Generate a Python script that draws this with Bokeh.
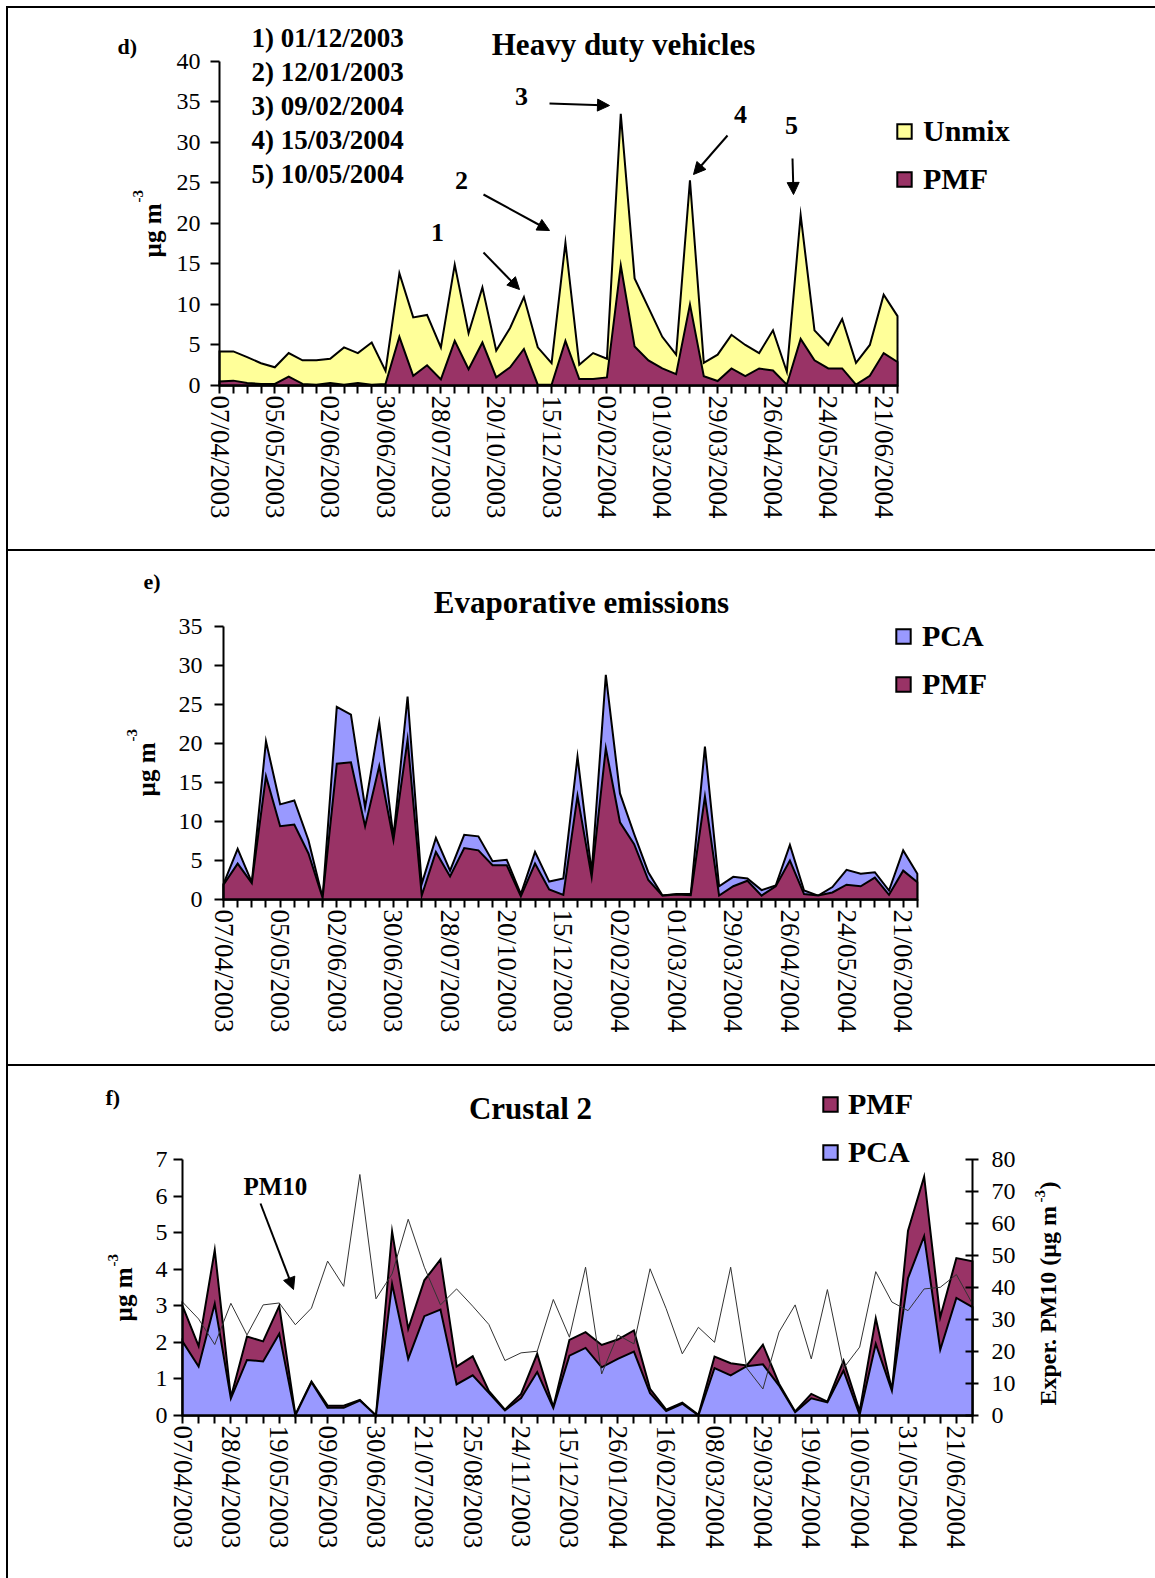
import math
from bokeh.plotting import figure
from bokeh.models import (Range1d, LinearAxis, FixedTicker, Label, Arrow, NormalHead,
                          Legend, LegendItem, Div)
from bokeh.layouts import column, row
from bokeh.embed import file_html
from bokeh.resources import INLINE

# ---------------- data ----------------
# d) Heavy duty vehicles (50 samples)
d_unmix = [4.2, 4.2, 3.5, 2.75, 2.25, 4.0, 3.1, 3.1, 3.3, 4.7, 4.0, 5.3, 1.8,
           13.85, 8.4, 8.7, 4.7, 14.9, 6.45, 12.1, 4.3, 7.1, 10.9, 4.7, 2.75, 17.6, 2.55, 4.0, 3.3,
           33.5, 13.2, 9.6, 6.0, 3.8, 25.3, 2.8, 3.8, 6.25, 5.0, 4.0, 6.8, 1.7, 21.0, 6.8, 5.0,
           8.2, 2.8, 5.0, 11.2, 8.55]
d_pmf = [0.5, 0.6, 0.3, 0.2, 0.2, 1.1, 0.2, 0.1, 0.3, 0.1, 0.3, 0.1, 0.2,
         6.0, 1.2, 2.5, 0.75, 5.5, 2.0, 5.3, 1.0, 2.25, 4.5, 0.1, 0.1, 5.5, 0.8, 0.8, 1.0,
         14.8, 4.8, 3.1, 2.1, 1.4, 10.0, 1.15, 0.55, 2.1, 1.15, 2.1, 1.85, 0.1, 5.75, 3.1, 2.1,
         2.1, 0.1, 1.2, 4.0, 2.9]
d_tick_labels = ["07/04/2003", "05/05/2003", "02/06/2003", "30/06/2003", "28/07/2003",
                 "20/10/2003", "15/12/2003", "02/02/2004", "01/03/2004", "29/03/2004",
                 "26/04/2004", "24/05/2004", "21/06/2004"]
d_events = ["1) 01/12/2003", "2) 12/01/2003", "3) 09/02/2004", "4) 15/03/2004", "5) 10/05/2004"]

# e) Evaporative emissions (50 samples)
e_pca = [2.0, 6.5, 2.2, 20.3, 12.2, 12.7, 7.6, 0.2, 24.7, 23.7, 11.8, 22.7, 8.0, 26.0, 2.0,
         7.9, 3.7, 8.3, 8.1, 4.9, 5.1, 0.7, 6.1,
         2.3, 2.7, 18.3, 3.5, 28.8, 13.6, 8.4, 3.5, 0.5, 0.7, 0.7, 19.6, 1.7, 2.9, 2.7, 1.2,
         1.8, 7.0, 1.15, 0.5, 1.6, 3.8, 3.3, 3.5, 1.15, 6.3, 3.3]
e_pmf = [1.9, 4.6, 2.1, 15.8, 9.4, 9.6, 5.9, 0.2, 17.4, 17.6, 9.4, 17.1, 7.6, 20.5, 0.5,
         6.1, 2.95, 6.6, 6.3, 4.4, 4.4, 0.4, 4.6,
         1.3, 0.6, 13.3, 2.9, 19.4, 9.9, 7.1, 2.5, 0.5, 0.65, 0.55, 13.2, 0.5, 1.7, 2.4, 0.5,
         1.7, 5.0, 0.7, 0.5, 0.9, 1.9, 1.7, 2.8, 0.6, 3.7, 2.2]
e_tick_labels = d_tick_labels

# f) Crustal 2 (50 samples)
f_pmf = [3.0, 1.9, 4.53, 0.5, 2.16, 2.03, 3.0, 0.02, 0.93, 0.27, 0.27, 0.43, 0.0, 5.04,
         2.37, 3.7, 4.27, 1.34, 1.62, 0.67, 0.16, 0.59, 1.69,
         0.23, 2.07, 2.28, 1.93, 2.08, 2.33, 0.73, 0.16, 0.35, 0.02, 1.61, 1.43, 1.37, 1.94,
         0.87, 0.11, 0.59, 0.38, 1.5, 0.12, 2.66, 0.7, 5.06, 6.54, 2.69, 4.31, 4.22]
f_pca = [2.03, 1.34, 3.06, 0.47, 1.52, 1.48, 2.24, 0.0, 0.91, 0.21, 0.21, 0.41, 0.0, 3.6,
         1.55, 2.72, 2.9, 0.85, 1.1, 0.62, 0.14, 0.48, 1.19,
         0.21, 1.64, 1.85, 1.32, 1.55, 1.75, 0.61, 0.12, 0.32, 0.0, 1.3, 1.1, 1.35, 1.4,
         0.82, 0.09, 0.47, 0.36, 1.23, 0.02, 1.96, 0.68, 3.76, 4.91, 1.8, 3.22, 2.97]
f_pm10 = [35.5, 30.2, 22.2, 35.1, 25.2, 34.6, 35.2, 28.4, 33.6, 48.3, 40.4, 75.4, 36.5,
          44.3, 61.4, 46.4, 34.6, 39.6, 34.2, 28.5, 17.2, 19.6, 20.1,
          36.3, 24.5, 46.4, 13.0, 25.2, 22.4, 45.9, 33.4, 19.3, 27.6, 22.9, 46.4, 14.8, 8.3,
          26.1, 34.6, 17.7, 39.4, 14.8, 21.4, 45.0, 35.5, 32.8, 39.6, 40.1, 44.1, 34.9]
f_tick_labels = ["07/04/2003", "28/04/2003", "19/05/2003", "09/06/2003", "30/06/2003",
                 "21/07/2003", "25/08/2003", "24/11/2003", "15/12/2003", "26/01/2004",
                 "16/02/2004", "08/03/2004", "29/03/2004", "19/04/2004", "10/05/2004",
                 "31/05/2004", "21/06/2004"]

# ---------------- styling ----------------
SERIF = "Liberation Serif"
YELLOW = "#FFFF99"
PLUM = "#993366"
BLUE = "#9999FF"
W = 1147              # figure width
PAGE_X0 = 8           # page x of figure left edge
BASE_SHIFT = 0.3      # correction of Label baseline placement (fraction of font size)


class Conv:
    """page pixel -> data coordinate helper for one panel"""
    def __init__(self, x0_page, y0_page, sx, sy):
        self.x0, self.y0, self.sx, self.sy = x0_page, y0_page, sx, sy

    def x(self, px):
        return (px - self.x0) / self.sx

    def y(self, py):
        return (self.y0 - py) / self.sy


def make_fig(top_page, height, c):
    # the frame covers the whole figure; axes are placed with fixed_location
    p = figure(width=W, height=height,
               x_range=Range1d(c.x(PAGE_X0), c.x(PAGE_X0 + W)),
               y_range=Range1d(c.y(top_page + height), c.y(top_page)),
               output_backend="svg", toolbar_location=None, title=None,
               min_border_left=0, min_border_right=0, min_border_top=0,
               min_border_bottom=0)
    p.xgrid.visible = False
    p.ygrid.visible = False
    p.outline_line_color = None
    p.background_fill_color = "white"
    p.border_fill_color = "white"
    return p


def style_x(ax, n, step, labels, size="27px"):
    ax.ticker = FixedTicker(ticks=list(range(n)))
    ov = {i: "" for i in range(n)}
    for k, lab in enumerate(labels):
        ov[k * step] = lab
    ax.major_label_overrides = ov
    ax.bounds = (0, n - 1)
    ax.fixed_location = 0
    ax.major_label_orientation = "vertical"
    ax.major_tick_out = 8
    ax.major_tick_in = 0
    ax.minor_tick_line_color = None
    ax.axis_line_width = 2
    ax.major_tick_line_width = 2
    ax.major_label_standoff = 2
    ax.major_label_text_font = SERIF
    ax.major_label_text_font_size = size
    ax.major_label_text_color = "black"


def style_y(ax, ticks, bounds, standoff, loc, tick_out=9, tick_in=0):
    ax.ticker = FixedTicker(ticks=ticks)
    ax.bounds = bounds
    ax.fixed_location = loc
    ax.major_tick_out = tick_out
    ax.major_tick_in = tick_in
    ax.minor_tick_line_color = None
    ax.axis_line_width = 2
    ax.major_tick_line_width = 2
    ax.major_label_standoff = standoff
    ax.major_label_text_font = SERIF
    ax.major_label_text_font_size = "24px"
    ax.major_label_text_color = "black"


def area(p, values, color, **kw):
    n = len(values)
    xs = [0] + list(range(n)) + [n - 1]
    ys = [0] + list(values) + [0]
    return p.patch(xs, ys, fill_color=color, line_color="black", line_width=2,
                   line_join="miter", **kw)


def text(p, c, px, py, s, size, bold=True, align="left", angle=0.0):
    if angle == 0:
        py = py - BASE_SHIFT * size
    else:
        px = px - BASE_SHIFT * size
    p.add_layout(Label(x=c.x(px), y=c.y(py), text=s, text_font=SERIF,
                       text_font_size=f"{size}px",
                       text_font_style="bold" if bold else "normal",
                       text_align=align, text_baseline="alphabetic", angle=angle,
                       text_color="black"))


def arrow(p, c, x0, y0, x1, y1):
    p.add_layout(Arrow(x_start=c.x(x0), y_start=c.y(y0), x_end=c.x(x1), y_end=c.y(y1),
                       line_width=2, line_color="black",
                       end=NormalHead(size=12, fill_color="black", line_color="black",
                                      line_width=1)))


def legend(p, c, fig_bottom_page, items, box_x, bottom_y, standoff):
    lg = Legend(items=[LegendItem(label=l, renderers=[r]) for l, r in items],
                location=(box_x - PAGE_X0, fig_bottom_page - bottom_y),
                orientation="vertical", glyph_width=18, glyph_height=18,
                label_standoff=standoff, spacing=14, padding=0, margin=0,
                label_height=30,
                border_line_color=None, background_fill_alpha=0,
                label_text_font=SERIF, label_text_font_style="bold",
                label_text_font_size="30px", label_text_color="black")
    p.add_layout(lg)


def ylabel(p, c, bx, by, sx, sy, size=25):
    text(p, c, bx, by, "µg m", size, angle=math.pi / 2)
    text(p, c, sx, sy, "-3", 15, angle=math.pi / 2)


# ---------------- panel d ----------------
H1, TOP1 = 541, 8
cd = Conv(219, 385, 13.837, 8.11)
p1 = make_fig(TOP1, H1, cd)
n = len(d_unmix)
r_unmix = area(p1, d_unmix, YELLOW)
r_pmf_d = area(p1, d_pmf, PLUM)
style_x(p1.xaxis[0], n, 4, d_tick_labels)
style_y(p1.yaxis[0], list(range(0, 41, 5)), (0, 40), 10, 0)
legend(p1, cd, TOP1 + H1, [("Unmix", r_unmix), ("PMF", r_pmf_d)], 895, 196, 10)
text(p1, cd, 117, 53, "d)", 22)
for k, ev in enumerate(d_events):
    text(p1, cd, 251, 46 + 34 * k, ev, 27)
text(p1, cd, 623, 53, "Heavy duty vehicles", 31, align="center")
for s, px, py in [("1", 437, 240), ("2", 461, 188), ("3", 521, 104), ("4", 740, 122),
                  ("5", 791, 133)]:
    text(p1, cd, px, py, s, 26, align="center")
for a in [(483, 252, 519, 289), (483, 194, 549, 230), (549, 103, 609, 105),
          (727, 135, 693, 174), (792, 158, 793, 194)]:
    arrow(p1, cd, *a)
ylabel(p1, cd, 159, 257, 142, 202)

# ---------------- panel e ----------------
H2, TOP2 = 513, 551
ce = Conv(223, 899, 14.16, 7.8)
p2 = make_fig(TOP2, H2, ce)
r_pca_e = area(p2, e_pca, BLUE)
r_pmf_e = area(p2, e_pmf, PLUM)
style_x(p2.xaxis[0], len(e_pca), 4, e_tick_labels)
style_y(p2.yaxis[0], list(range(0, 36, 5)), (0, 35), 12, 0)
legend(p2, ce, TOP2 + H2, [("PCA", r_pca_e), ("PMF", r_pmf_e)], 894, 701, 10)
text(p2, ce, 143, 588, "e)", 22)
text(p2, ce, 581, 611, "Evaporative emissions", 31, align="center")
ylabel(p2, ce, 153, 796, 136, 741)

# ---------------- panel f ----------------
H3, TOP3 = 512, 1066
cf = Conv(182, 1415, 790 / 49, 36.53)
p3 = make_fig(TOP3, H3, cf)
p3.extra_y_ranges = {"pm": Range1d(p3.y_range.start * 80 / 7, p3.y_range.end * 80 / 7)}
r_pmf_f = area(p3, f_pmf, PLUM)
r_pca_f = area(p3, f_pca, BLUE)
p3.line(list(range(len(f_pm10))), f_pm10, y_range_name="pm", line_color="#333333",
        line_width=1)
style_x(p3.xaxis[0], len(f_pmf), 3, f_tick_labels)
style_y(p3.yaxis[0], list(range(0, 8)), (0, 7), 6, 0)
ax_r = LinearAxis(y_range_name="pm")
style_y(ax_r, list(range(0, 81, 10)), (0, 80), 13, len(f_pmf) - 1, tick_out=6, tick_in=7)
p3.add_layout(ax_r, "right")
legend(p3, cf, TOP3 + H3, [("PMF", r_pmf_f), ("PCA", r_pca_f)], 821, 1169, 9)
text(p3, cf, 105, 1104, "f)", 22)
text(p3, cf, 530, 1117, "Crustal 2", 31, align="center")
text(p3, cf, 243, 1193, "PM10", 25)
arrow(p3, cf, 260, 1203, 293, 1289)
ylabel(p3, cf, 130, 1321, 117, 1266)
text(p3, cf, 1055, 1405, "Exper. PM10 (µg m", 24, angle=math.pi / 2)
text(p3, cf, 1044, 1202, "-3", 15, angle=math.pi / 2)
text(p3, cf, 1055, 1189, ")", 24, angle=math.pi / 2)

# ---------------- frame lines & layout ----------------
def hline():
    return Div(text="", width=W, height=2, margin=0, styles={"background-color": "black"})


vline = Div(text="", width=2, height=1572, margin=0, styles={"background-color": "black"})
col = column(hline(), p1, hline(), p2, hline(), p3, spacing=0, margin=0)
layout = row(vline, col, spacing=0, margin=(6, 0, 0, 6))

html = file_html(layout, INLINE, "Source contributions")
html = html.replace("<head>", "<head><style>html,body{margin:0;padding:0;overflow:hidden;}</style>", 1)
open("out.html", "w").write(html)
